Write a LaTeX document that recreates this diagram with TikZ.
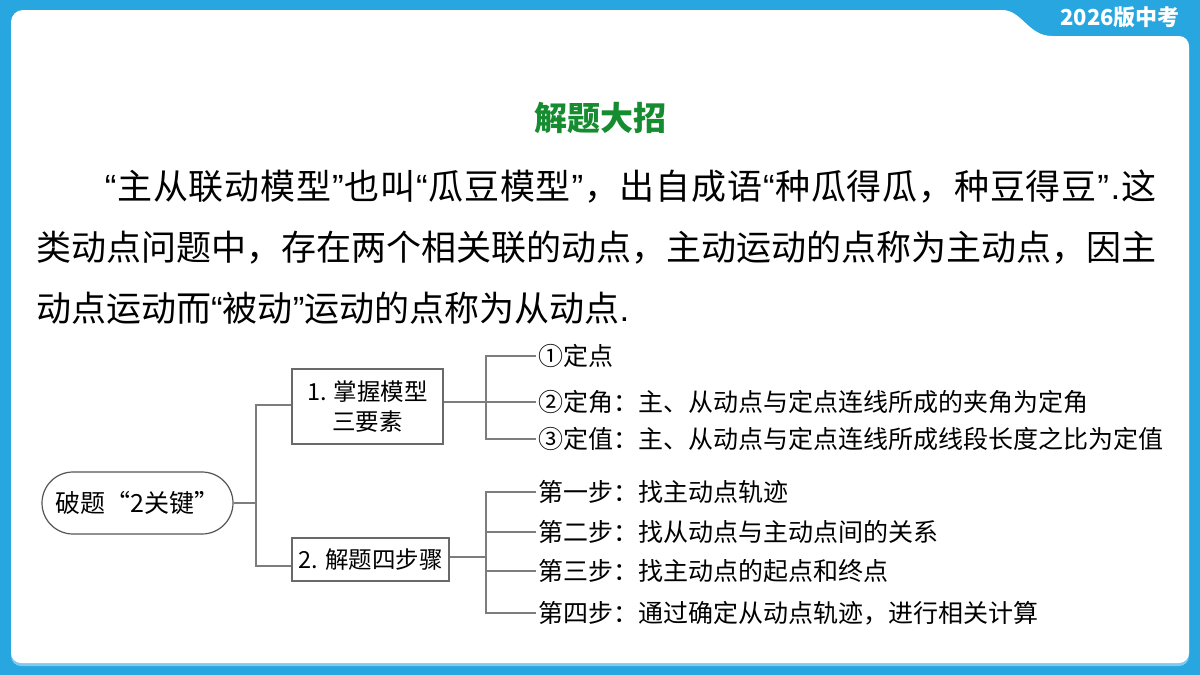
\documentclass[tikz,border=0pt]{standalone}
\usepackage{fontspec}
\setmainfont{Noto Sans CJK SC}
\newfontfamily\qfont{Liberation Sans}
\usetikzlibrary{calc}
\definecolor{bgblue}{RGB}{40,166,224}
\definecolor{shblue}{RGB}{125,203,240}
\definecolor{ttlgreen}{RGB}{22,140,48}
\definecolor{lngray}{RGB}{125,125,125}
\definecolor{bxgray}{RGB}{105,105,105}
\definecolor{pillgray}{RGB}{85,85,85}
\chardef\jcls=77
\newcount\jcnt
\jcnt="4E00
\loop \XeTeXcharclass\jcnt=\jcls \ifnum\jcnt<"9FFF \advance\jcnt by 1 \repeat
\XeTeXcharclass"FF0C=\jcls
\XeTeXinterchartoks\jcls\jcls={\hskip 0pt plus 1fil\relax}
\newcommand\jglue{\hskip 0pt plus 1fil\relax}
\newcommand\qL{\jglue{\qfont “}\jglue}
\newcommand\qR{\jglue{\qfont ”}\jglue}
\newcommand\qP{\jglue{\qfont .}\jglue}
\begin{document}
\begin{tikzpicture}[x=1pt,y=-1pt,
  boxst/.style={draw=bxgray, line width=1.2pt, inner sep=0pt, align=center, font=\fontsize{23.5}{30}\selectfont},
  leafst/.style={anchor=west, inner xsep=2pt, inner ysep=0pt, font=\fontsize{25}{28}\selectfont},
  conn/.style={draw=lngray, line width=1.3pt},
  paraline/.style={anchor=base west, inner sep=0pt, font=\fontsize{35}{40}\selectfont}]
\useasboundingbox (0,0) rectangle (1200,675);
\fill[bgblue] (0,0) rectangle (1200,675);
\def\panelpath{[rounded corners=12pt] (11,400) -- (11,10) -- (990,10) [sharp corners] .. controls (1022,10) and (1028,36) .. (1052,36) [rounded corners=10pt] -- (1189,36) -- (1189,663) -- (11,663) -- (11,400)}
\fill[shblue, yshift=-3pt] \panelpath;
\fill[white] \panelpath;
\node[font=\bfseries\fontsize{22}{24}\selectfont, text=white, anchor=base, inner sep=0pt] (tab) at (1120,25.5) {2026版中考};
\node[text=ttlgreen, font=\bfseries\fontsize{33}{36}\selectfont, anchor=base, inner sep=0pt] (title) at (600,130.5) {解题大招};
\node[paraline] (p1) at (104,199) {\XeTeXinterchartokenstate=1 \makebox[1052pt][s]{\qL 主从联动模型\qR 也叫\qL 瓜豆模型\qR ，出自成语\qL 种瓜得瓜，种豆得豆\qR\qP 这}};
\node[paraline] (p2) at (36,260) {\XeTeXinterchartokenstate=1 \makebox[1120pt][s]{类动点问题中，存在两个相关联的动点，主动运动的点称为主动点，因主}};
\node[paraline] (p3) at (36,321) {动点运动而{\qfont “}被动{\qfont ”}运动的点称为从动点{\qfont .}};
\node[draw=pillgray, line width=1.2pt, rounded corners=31pt, minimum width=191pt, minimum height=62pt, inner sep=0pt, font=\fontsize{25}{28}\selectfont] (root) at (137.5,503) {破题“2关键”};
\node[boxst, minimum width=151pt, minimum height=75pt] (b1) at (367.5,406.5) {1. 掌握模型\\三要素};
\node[boxst, minimum width=157pt, minimum height=43pt] (b2) at (370.5,559.5) {2. 解题四步骤};
\coordinate (j1) at (256,503);
\coordinate (j2) at (486,402);
\coordinate (j3) at (486,557);
\node[leafst] (a1) at (536,356) {①定点};
\node[leafst] (a2) at (536,402) {②定角：主、从动点与定点连线所成的夹角为定角};
\node[leafst] (a3) at (536,439) {③定值：主、从动点与定点连线所成线段长度之比为定值};
\node[leafst] (s1) at (536,492) {第一步：找主动点轨迹};
\node[leafst] (s2) at (536,532) {第二步：找从动点与主动点间的关系};
\node[leafst] (s3) at (536,571) {第三步：找主动点的起点和终点};
\node[leafst] (s4) at (536,613) {第四步：通过确定从动点轨迹，进行相关计算};
\draw[conn] (root.east) -- (j1);
\draw[conn] ($(b1.west)+(0,-1.5)$) -| (j1) |- ($(b2.west)+(0,6.5)$);
\draw[conn] ($(b1.east)+(0,-4.5)$) -- (j2);
\draw[conn] (a1.west) -| (j2) |- (a3.west);
\draw[conn] (j2) -- (a2.west);
\draw[conn] ($(b2.east)+(0,-2.5)$) -- (j3);
\draw[conn] (s1.west) -| (j3) |- (s4.west);
\draw[conn] (s2.west) -- (s2.west -| j3);
\draw[conn] (s3.west) -- (s3.west -| j3);
\end{tikzpicture}
\end{document}
